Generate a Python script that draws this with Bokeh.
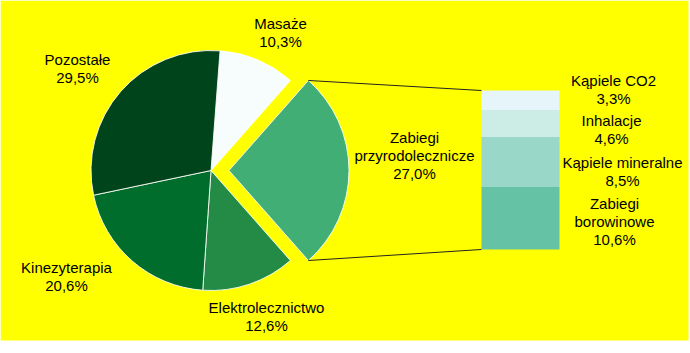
import math
from bokeh.plotting import figure
from bokeh.models import Range1d
from bokeh.core.properties import value
from bokeh.embed import file_html
from bokeh.resources import INLINE

# ---- data ----
pie_names = ["Masaże", "Zabiegi\nprzyrodolecznicze", "Elektrolecznictwo", "Kinezyterapia", "Pozostałe"]
pie_values = [10.3, 27.0, 12.6, 20.6, 29.5]
pie_colors = ["#f7fcfd", "#41ae76", "#238b45", "#006d2c", "#00441b"]
exploded_index = 1

bar_names = ["Kąpiele CO2", "Inhalacje", "Kąpiele mineralne", "Zabiegi\nborowinowe"]
bar_values = [3.3, 4.6, 8.5, 10.6]
bar_colors = ["#e5f5f9", "#ccece6", "#99d8c9", "#66c2a4"]

# ---- layout (pixel coords, y down) ----
W, H = 690, 353
BG_W, BG_H = 688, 340
CX, CY, R = 210.5, 170.0, 120.0
EXPLODE = 18.0
BAR_L, BAR_R, BAR_TOP, BAR_HEIGHT = 481.0, 559.0, 90.0, 159.0
FONT = "Liberation Sans"
FSIZE = "15px"
LINE_GAP = 18.0

pie_label_pos = [(280, 23), (414, 137), (266, 307), (66, 267), (77, 59)]
bar_label_pos = [(613, 80), (611, 120), (622, 162), (614, 203)]


def Y(py):
    return H - py


def fmt(v):
    return ("%.1f" % v).replace(".", ",") + "%"


p = figure(width=W, height=H, x_range=Range1d(0, W), y_range=Range1d(0, H),
           output_backend="svg", toolbar_location=None, min_border=0,
           x_axis_type=None, y_axis_type=None)
p.grid.visible = False
p.outline_line_color = None
p.background_fill_color = "white"
p.border_fill_color = "white"

# yellow background
p.quad(left=[0], right=[BG_W], top=[Y(0)], bottom=[Y(BG_H)],
       fill_color="#ffff00", line_color=None)

# ---- pie ----
total = sum(pie_values)
before = sum(pie_values[:exploded_index])
# rotate so that the exploded slice is centred pointing right (90 deg clockwise from top)
start_deg = 90.0 - (before + pie_values[exploded_index] / 2.0) / total * 360.0

cum = start_deg
conn_pts = None
for i, (v, c) in enumerate(zip(pie_values, pie_colors)):
    t1 = cum
    t2 = cum + v / total * 360.0
    cum = t2
    cx, cy = CX, CY
    if i == exploded_index:
        mid = math.radians((t1 + t2) / 2)
        cx += EXPLODE * math.sin(mid)
        cy -= EXPLODE * math.cos(mid)
        a1, a2 = math.radians(t1), math.radians(t2)
        conn_pts = [(cx + R * math.sin(a1), cy - R * math.cos(a1)),
                    (cx + R * math.sin(a2), cy - R * math.cos(a2))]
    p.wedge(x=[cx], y=[Y(cy)], radius=R, radius_units="screen",
            start_angle=math.pi / 2 - math.radians(t1),
            end_angle=math.pi / 2 - math.radians(t2),
            direction="clock", fill_color=c, line_color="#ffffff",
            line_width=1, line_alpha=0.85)

# ---- stacked bar ----
scale = BAR_HEIGHT / sum(bar_values)
top = BAR_TOP
for v, c in zip(bar_values, bar_colors):
    bottom = top + v * scale
    p.quad(left=[BAR_L], right=[BAR_R], top=[Y(top)], bottom=[Y(bottom)],
           fill_color=c, line_color=None)
    top = bottom

# connector lines
p.segment(x0=[conn_pts[0][0], conn_pts[1][0]], y0=[Y(conn_pts[0][1]), Y(conn_pts[1][1])],
          x1=[BAR_L, BAR_L], y1=[Y(BAR_TOP), Y(BAR_TOP + BAR_HEIGHT)],
          line_color="#222222", line_width=1)

# ---- labels ----
def draw_label(name, v, pos):
    lines = name.split("\n") + [fmt(v)]
    x, y0 = pos
    xs = [x] * len(lines)
    ys = [Y(y0 + k * LINE_GAP) for k in range(len(lines))]
    p.text(x=xs, y=ys, text=lines, text_align="center", text_baseline="middle",
           text_font=value(FONT), text_font_size=FSIZE, text_color="#000000")


for n, v, pos in zip(pie_names, pie_values, pie_label_pos):
    draw_label(n, v, pos)
for n, v, pos in zip(bar_names, bar_values, bar_label_pos):
    draw_label(n, v, pos)

open("out.html", "w").write(file_html(p, INLINE))
